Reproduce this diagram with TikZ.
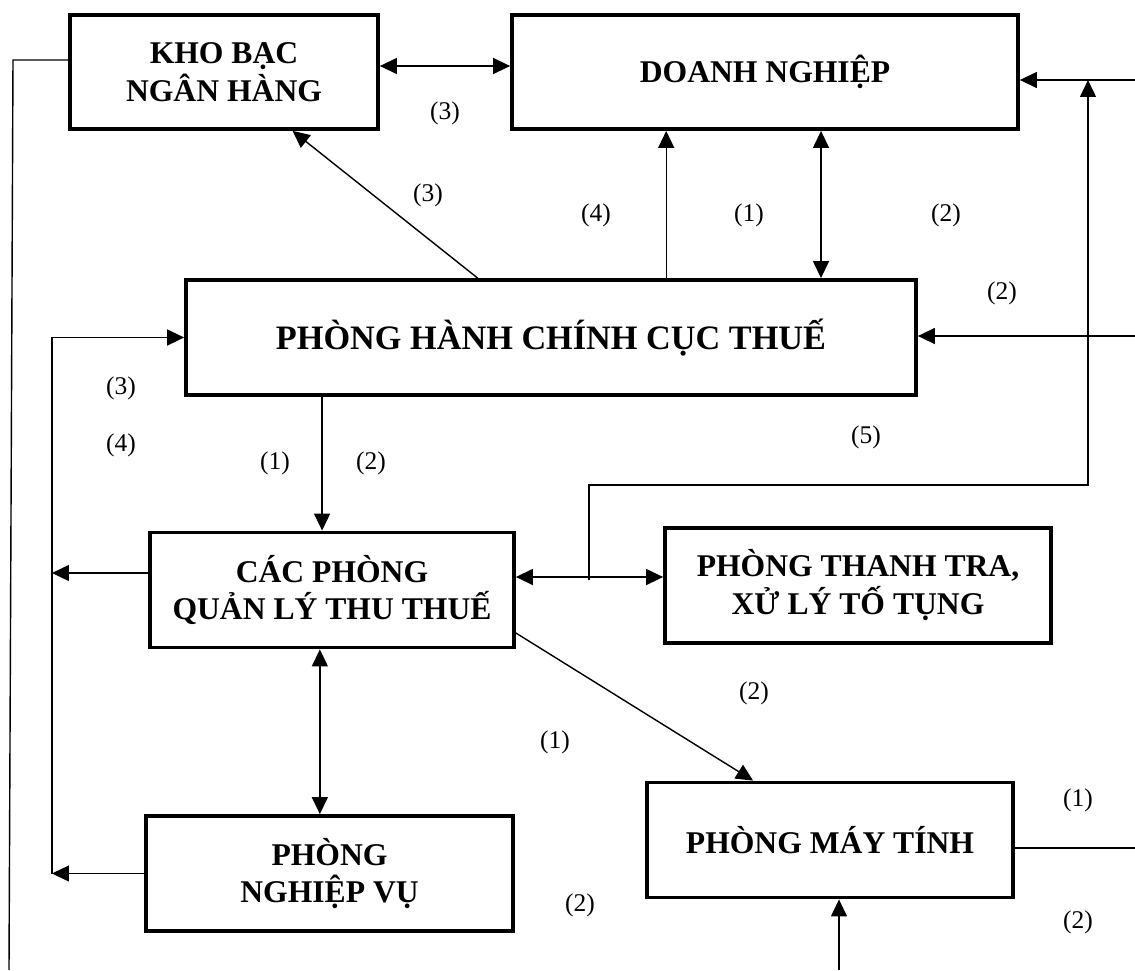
\documentclass[tikz,border=0pt]{standalone}
\usepackage{fontspec}
\setmainfont{Liberation Serif}
\usepackage{tikz}
\usetikzlibrary{arrows.meta, calc}
\tikzset{
  orgbox/.style={
    draw, line width=2.2pt, align=center, inner sep=0pt,
    font=\fontsize{18}{21.6}\selectfont\bfseries, fill=white
  },
  orgline/.style={line width=0.8pt},
  orgarrow/.style={-{Triangle[length=0.34cm, width=0.32cm]}, line width=0.8pt},
  orgbiarrow/.style={{Triangle[length=0.34cm, width=0.32cm]}-{Triangle[length=0.34cm, width=0.32cm]}, line width=0.8pt},
  numlabel/.style={font=\fontsize{14.5}{17}\selectfont},
}
\begin{document}
\begin{tikzpicture}[x=0.02cm, y=-0.02cm]
  \useasboundingbox (0,0) rectangle (1135,970);

  % Boxes
  \node[orgbox, minimum width=6.16cm, minimum height=2.28cm] (kb) at (224,72) {KHO BẠC\\NGÂN HÀNG};
  \node[orgbox, minimum width=10.12cm, minimum height=2.28cm] (dn) at (765,72) {DOANH NGHIỆP};
  \node[orgbox, minimum width=14.6cm, minimum height=2.3cm, font=\fontsize{19.5}{23}\selectfont\bfseries] (phc) at (551,337.5) {PHÒNG HÀNH CHÍNH CỤC THUẾ};
  \node[orgbox, minimum width=7.28cm, minimum height=2.3cm] (cp) at (332,590) {CÁC PHÒNG\\QUẢN LÝ THU THUẾ};
  \node[orgbox, minimum width=7.72cm, minimum height=2.3cm] (tt) at (858,585.5) {PHÒNG THANH TRA,\\XỬ LÝ TỐ TỤNG};
  \node[orgbox, minimum width=7.34cm, minimum height=2.3cm] (pn) at (329.5,873.5) {PHÒNG\\NGHIỆP VỤ};
  \node[orgbox, minimum width=7.32cm, minimum height=2.3cm] (mt) at (830,840) {PHÒNG MÁY TÍNH};

  % Free ends
  \coordinate (ltop) at (13,60);
  \coordinate (lbot) at (9,970);
  \coordinate (lq) at (52,0);
  \coordinate (rdn) at (1135,80);
  \coordinate (rphc) at (1135,336);
  \coordinate (c5) at (1088,485);
  \coordinate (tt5) at (589,580);
  \coordinate (rmt) at (1135,848);
  \coordinate (bmt) at (839,970);

  % Points on box edges
  \coordinate (p3) at ($(phc.north west)!0.4!(phc.north east)$);
  \coordinate (p4) at ($(phc.north west)!0.657!(phc.north east)$);
  \coordinate (p1) at ($(phc.north west)!0.868!(phc.north east)$);
  \coordinate (p12) at ($(phc.south west)!0.188!(phc.south east)$);
  \coordinate (p7) at ($(cp.south west)!0.467!(cp.south east)$);
  \coordinate (kbe) at ([yshift=0.12cm]kb.east);
  \coordinate (kbw) at ([yshift=0.24cm]kb.west);
  \coordinate (cpe) at ([yshift=0.26cm]cp.east);
  \coordinate (cpw) at ([yshift=0.34cm]cp.west);
  \coordinate (cpd) at ([yshift=-0.86cm]cp.east);

  % Connectors
  \draw[orgbiarrow] (kbe) -- (kbe -| dn.west);
  \draw[orgline] (kbw) -- (ltop) -- (lbot);
  \draw[orgarrow] (p3) -- ($(kb.south west)!0.72!(kb.south east)$);
  \draw[orgarrow] (p4) -- (p4 |- dn.south);
  \draw[orgbiarrow] (p1) -- (p1 |- dn.south);
  \draw[orgarrow] (rdn) -- (rdn -| dn.east);
  \draw[orgarrow] (tt5) |- (c5) -- (c5 |- rdn);
  \draw[orgarrow] (rphc) -- (rphc -| phc.east);
  \draw[orgarrow] (p12) -- (p12 |- cp.north);
  \draw[orgbiarrow] (cpe) -- (cpe -| tt.west);
  \draw[orgarrow] (pn.west -| lq) |- (phc.west);
  \draw[orgarrow] (pn.west) -- (pn.west -| lq);
  \draw[orgarrow] (cpw) -- (cpw -| lq);
  \draw[orgbiarrow] (p7) -- (p7 |- pn.north);
  \draw[orgarrow] (cpd) -- ($(mt.north west)!0.292!(mt.north east)$);
  \draw[orgline] (rmt -| mt.east) -- (rmt);
  \draw[orgarrow] (bmt) -- (bmt |- mt.south);

  % Flow numbers
  \node[numlabel] (n1) at (445,113) {(3)};
  \node[numlabel] (n2) at (428,195) {(3)};
  \node[numlabel] (n3) at (596,215) {(4)};
  \node[numlabel] (n4) at (749,215) {(1)};
  \node[numlabel] (n5) at (946,215) {(2)};
  \node[numlabel] (n6) at (1002,293) {(2)};
  \node[numlabel] (n7) at (121,388) {(3)};
  \node[numlabel] (n8) at (121,445) {(4)};
  \node[numlabel] (n9) at (275,463) {(1)};
  \node[numlabel] (n10) at (371,463) {(2)};
  \node[numlabel] (n11) at (866,437) {(5)};
  \node[numlabel] (n12) at (754,693) {(2)};
  \node[numlabel] (n13) at (555,742) {(1)};
  \node[numlabel] (n14) at (1078,800) {(1)};
  \node[numlabel] (n15) at (580,905) {(2)};
  \node[numlabel] (n16) at (1078,922) {(2)};
\end{tikzpicture}
\end{document}
